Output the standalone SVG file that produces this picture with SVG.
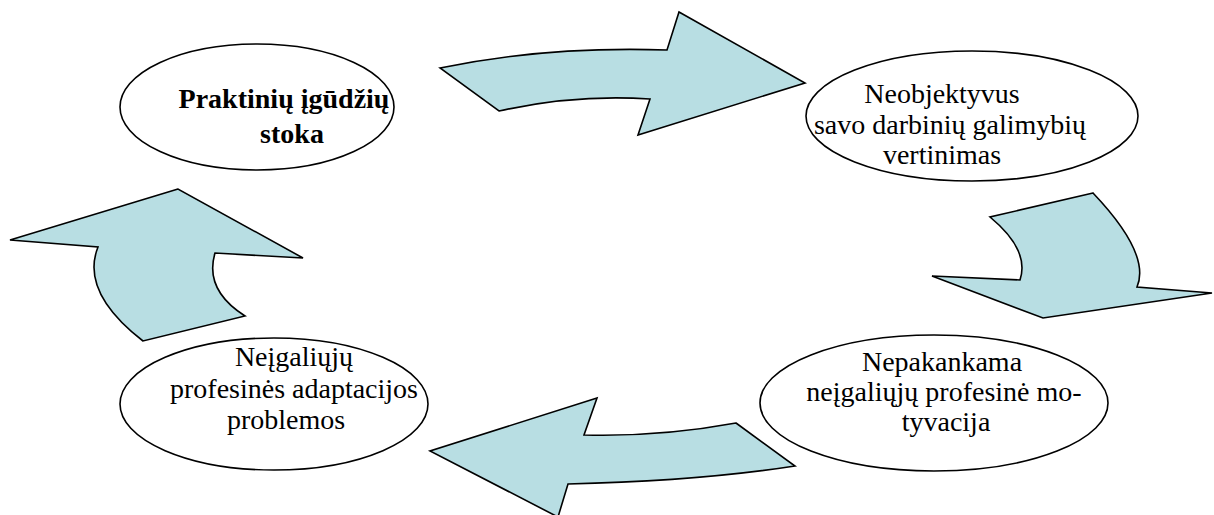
<svg xmlns="http://www.w3.org/2000/svg" width="1214" height="515" viewBox="0 0 1214 515">
<style>
.node{fill:#ffffff;stroke:#000000;stroke-width:1.6}
.arrow{fill:#B8DEE3;stroke:#000000;stroke-width:1.6;stroke-linejoin:miter}
.t{font-family:'Liberation Serif','Times New Roman',serif;font-size:28px;fill:#000000;text-anchor:middle}
.tb{font-family:'Liberation Serif','Times New Roman',serif;font-size:28px;font-weight:bold;fill:#000000;text-anchor:middle}
</style>
<rect width="1214" height="515" fill="#ffffff"/>
<g id="connectors">
<path class="arrow" d="M440,68 Q545,46 667,50 L679,12 L805,83 L638,135 L650,99 Q575,94 499,111 Z"/>
<path class="arrow" d="M1093,193 L990,217 Q1030,250 1020,280 L932,276 L1043,318 L1212,293 L1137,287 Q1151,254 1093,193 Z"/>
<path class="arrow" d="M736,423 L795,466 Q698,481 568,484 L558,517 L430,451 L597,398 L584,435 Q660,437 736,423 Z"/>
<path class="arrow" d="M178,189 L10,240 L98,247 Q80,292 143,341 L245,316 Q204,290 215,253 L303,258 Z"/>
</g>
<g id="node-praktiniu">
<ellipse class="node" cx="257" cy="107" rx="137" ry="63"/>
<text class="tb" x="284" y="108">Praktinių įgūdžių</text>
<text class="tb" x="292" y="143">stoka</text>
</g>
<g id="node-neobjektyvus">
<ellipse class="node" cx="972" cy="116" rx="166" ry="65"/>
<text class="t" x="942" y="103">Neobjektyvus</text>
<text class="t" x="950" y="134">savo darbinių galimybių</text>
<text class="t" x="942" y="164">vertinimas</text>
</g>
<g id="node-nepakankama">
<ellipse class="node" cx="934" cy="403" rx="174" ry="68"/>
<text class="t" x="942" y="371">Nepakankama</text>
<text class="t" x="944" y="401">neįgaliųjų profesinė mo-</text>
<text class="t" x="946" y="431">tyvacija</text>
</g>
<g id="node-neigaliuju">
<ellipse class="node" cx="274" cy="404" rx="154" ry="66"/>
<text class="t" x="294" y="366">Neįgaliųjų</text>
<text class="t" x="294" y="398">profesinės adaptacijos</text>
<text class="t" x="286" y="429">problemos</text>
</g>
</svg>
